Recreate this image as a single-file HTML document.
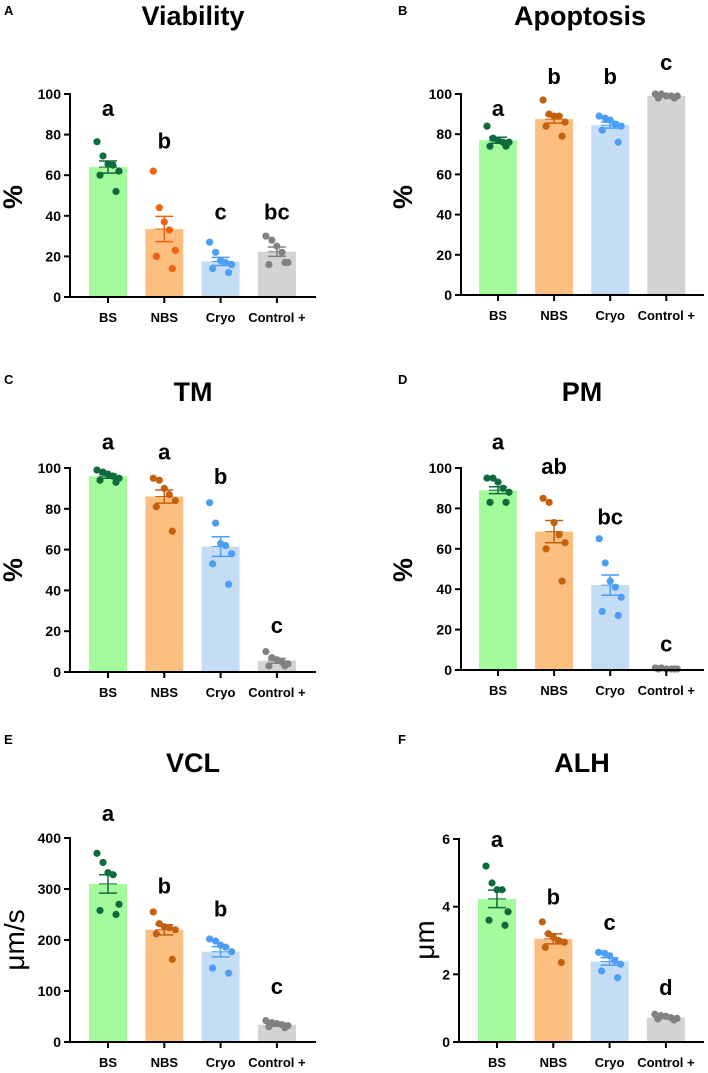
<!DOCTYPE html>
<html><head><meta charset="utf-8">
<style>
html,body{margin:0;padding:0;background:#fff;}
svg{display:block;font-family:"Liberation Sans",Arial,sans-serif;}
</style></head>
<body>
<svg id="fig" width="708" height="1073" viewBox="0 0 708 1073"></svg>
<script>
const categories = ["BS","NBS","Cryo","Control +"];

const viabilityMeans = [64, 33.5, 17.5, 22.3];
const viabilitySem = [3, 6.2, 2, 2.3];
const viabilityPoints = [[76.5,69.5,65.5,65,62,60,52],[62,44,37,33,23,20,14],[27,22,18,17,16,14,12],[30,28,25,22,17,16,17]];
const viabilityLetters = ["a","b","c","bc"];
const viabilityLetterY = [93,77,42,42];

const apoptosisMeans = [77, 87.5, 84.5, 99];
const apoptosisSem = [1.5, 2, 1.5, 0.5];
const apoptosisPoints = [[84,78,77,76,76,74,74],[97,90,89,89,86,84,79],[89,88,87,85,84,82,76],[100,100,99,99,99,98,98]];
const apoptosisLetters = ["a","b","b","c"];
const apoptosisLetterY = [93,109,109,116];

const tmMeans = [96, 86, 61.5, 5.5];
const tmSem = [1, 3.2, 4.8, 1.2];
const tmPoints = [[99,98,97,96,95,94,93],[95,94,90,87,84,81,69],[83,73,63,62,58,53,43],[10,7,6,5,4,3,3]];
const tmLetters = ["a","a","b","c"];
const tmLetterY = [113,108,96,23];

const pmMeans = [89, 68.5, 42, 0.5];
const pmSem = [1.7, 5.5, 5, 0.2];
const pmPoints = [[95,95,93,90,88,83,83],[85,83,73,67,63,60,44],[65,53,44,41,36,29,27],[1,1,0.5,0.5,0.5,0.5,0.5]];
const pmLetters = ["a","ab","bc","c"];
const pmLetterY = [113,101,76,13];

const vclMeans = [310, 220, 177, 34];
const vclSem = [18, 10, 10, 3];
const vclPoints = [[370,352,332,328,270,258,250],[255,232,226,224,220,212,162],[202,198,190,186,177,145,135],[42,38,36,34,32,30,28]];
const vclLetters = ["a","b","b","c"];
const vclLetterY = [449,307,262,110];

const alhMeans = [4.23, 3.05, 2.38, 0.72];
const alhSem = [0.26, 0.15, 0.11, 0.03];
const alhPoints = [[5.2,4.7,4.5,4.5,3.85,3.6,3.45],[3.55,3.2,3.1,3.0,2.95,2.8,2.35],[2.65,2.62,2.55,2.4,2.3,2.1,1.9],[0.82,0.78,0.76,0.72,0.7,0.68,0.65]];
const alhLetters = ["a","b","c","d"];
const alhLetterY = [6.0,4.3,3.55,1.63];

const pctTicks = [0,20,40,60,80,100];
const vclTicks = [0,100,200,300,400];
const alhTicks = [0,2,4,6];

const barFill = ["#a3fb9c","#fdbf80","#c5dcf5","#d3d3d3"];
const barDark = ["#0d6b3c","#c5600f","#4c9ef5","#818181"];
const barDarkA = ["#0d6b3c","#f5600f","#4c9ef5","#818181"];
const jitter = [-11,-5,0,5,11,-8,8];
const NS = "http://www.w3.org/2000/svg";
const svg = document.getElementById("fig");

function mk(tag, attrs, parent, text){
  const e = document.createElementNS(NS, tag);
  for (const k in attrs) e.setAttribute(k, attrs[k]);
  if (text !== undefined) e.textContent = text;
  (parent||svg).appendChild(e);
  return e;
}

function panel(p){
  const dark = p.dark || barDark;
  const g = mk("g", {});
  
  
  const yS = v => p.y0 - (v - p.ticks[0]) / (p.ticks[p.ticks.length-1] - p.ticks[0]) * (p.y0 - p.yTop);
  const xS = i => p.x0 + p.firstOff + i * p.step;
  const lt = mk("text", {x:p.letterX, y:p.letterYpx, "font-size":13, "font-weight":"bold"}, g, p.letter);
  
  
  const tt = mk("text", {x:p.titleX, y:p.titleYpx, "font-size":27, "font-weight":"bold", "text-anchor":"middle"}, g, p.title);
  
  
  const yt = mk("text", {x:0, y:0, "font-size":p.yBold?27:28, "font-weight":p.yBold?"bold":"normal", "text-anchor":"middle", transform:`translate(${p.yTitleX},${p.yTitleY}) rotate(-90)`}, g, p.yTitle);
  
  
  p.means.forEach((m,i)=>{
    const b = mk("rect", {x:xS(i)-19, y:yS(m), width:38, height:p.y0-yS(m), fill:barFill[i]}, g);
    
    
  });
  p.points.forEach((arr,i)=>{
    arr.forEach((v,j)=>{
      const c = mk("circle", {cx:xS(i)+jitter[j%jitter.length], cy:yS(v), r:3.6, fill:dark[i]}, g);
      
      
    });
  });
  p.means.forEach((m,i)=>{
    const cx = xS(i), hi = yS(m + p.sem[i]), lo = yS(m - p.sem[i]);
    const eg = mk("g", {stroke:dark[i], "stroke-width":1.5}, g);
    
    
    mk("line", {x1:cx, x2:cx, y1:hi, y2:lo}, eg);
    mk("line", {x1:cx-9, x2:cx+9, y1:hi, y2:hi}, eg);
    mk("line", {x1:cx-9, x2:cx+9, y1:lo, y2:lo}, eg);
    mk("line", {x1:cx-9, x2:cx+9, y1:yS(m), y2:yS(m), "stroke-width":1}, eg);
  });
  p.letters.forEach((l,i)=>{
    const t = mk("text", {x:xS(i), y:yS(p.letterY[i])+8, "font-size":22, "font-weight":"bold", "text-anchor":"middle"}, g, l);
    
    
  });
  const ax = mk("g", {stroke:"#000", "stroke-width":2}, g);
  
  
  mk("line", {x1:p.x0, x2:p.x0, y1:p.yTop-1, y2:p.y0+1}, ax);
  mk("line", {x1:p.x0-1, x2:p.xEnd, y1:p.y0, y2:p.y0}, ax);
  p.ticks.forEach(t=>{
    mk("line", {x1:p.x0-6, x2:p.x0, y1:yS(t), y2:yS(t)}, ax);
    const tl = mk("text", {x:p.x0-9, y:yS(t)+5, "font-size":14, "font-weight":"bold", "text-anchor":"end"}, g, String(t));
    
    
  });
  categories.forEach((c,i)=>{
    mk("line", {x1:xS(i), x2:xS(i), y1:p.y0, y2:p.y0+6}, ax);
    const cl = mk("text", {x:xS(i), y:p.y0+25, "font-size":13, "font-weight":"bold", "text-anchor":"middle"}, g, c);
    
    
  });
}

panel({id:"viability", letter:"A", title:"Viability", yTitle:"%", yBold:true, letterX:4, letterYpx:15, titleX:193, titleYpx:25, yTitleX:22, yTitleY:197,
  x0:70, y0:297, yTop:94, xEnd:316, firstOff:38, step:56.3, ticks:pctTicks, dark:barDarkA,
  means:viabilityMeans, sem:viabilitySem, points:viabilityPoints, letters:viabilityLetters, letterY:viabilityLetterY});
panel({id:"apoptosis", letter:"B", title:"Apoptosis", yTitle:"%", yBold:true, letterX:398, letterYpx:15, titleX:580, titleYpx:25, yTitleX:412, yTitleY:197,
  x0:461, y0:295, yTop:94, xEnd:704, firstOff:37, step:56.1, ticks:pctTicks,
  means:apoptosisMeans, sem:apoptosisSem, points:apoptosisPoints, letters:apoptosisLetters, letterY:apoptosisLetterY});
panel({id:"tm", letter:"C", title:"TM", yTitle:"%", yBold:true, letterX:4, letterYpx:384, titleX:193, titleYpx:401, yTitleX:22, yTitleY:570,
  x0:70, y0:672, yTop:468, xEnd:316, firstOff:38, step:56.3, ticks:pctTicks,
  means:tmMeans, sem:tmSem, points:tmPoints, letters:tmLetters, letterY:tmLetterY});
panel({id:"pm", letter:"D", title:"PM", yTitle:"%", yBold:true, letterX:398, letterYpx:384, titleX:582, titleYpx:401, yTitleX:412, yTitleY:570,
  x0:461, y0:670, yTop:468, xEnd:704, firstOff:37, step:56.1, ticks:pctTicks,
  means:pmMeans, sem:pmSem, points:pmPoints, letters:pmLetters, letterY:pmLetterY});
panel({id:"vcl", letter:"E", title:"VCL", yTitle:"μm/s", yBold:false, letterX:4, letterYpx:744, titleX:193, titleYpx:772, yTitleX:24, yTitleY:940,
  x0:70, y0:1042, yTop:838, xEnd:316, firstOff:38, step:56.3, ticks:vclTicks,
  means:vclMeans, sem:vclSem, points:vclPoints, letters:vclLetters, letterY:vclLetterY});
panel({id:"alh", letter:"F", title:"ALH", yTitle:"μm", yBold:false, letterX:398, letterYpx:744, titleX:582, titleYpx:772, yTitleX:434, yTitleY:940,
  x0:459, y0:1042, yTop:839, xEnd:704, firstOff:38, step:56.3, ticks:alhTicks,
  means:alhMeans, sem:alhSem, points:alhPoints, letters:alhLetters, letterY:alhLetterY});
</script>
</body></html>
